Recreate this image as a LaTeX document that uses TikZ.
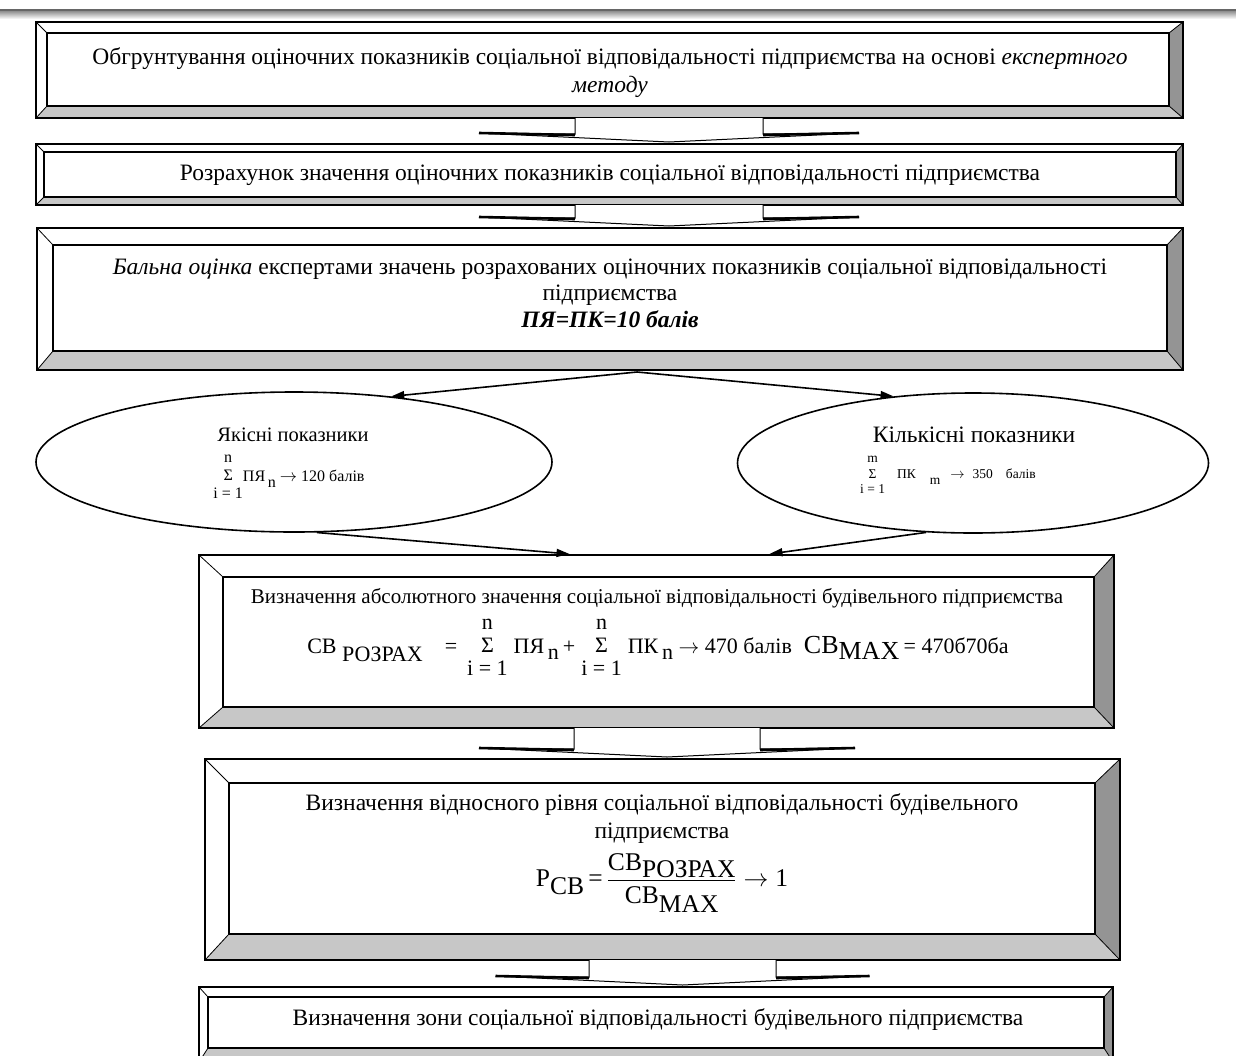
\documentclass[tikz,border=0pt]{standalone}
\usepackage{fontspec}
\setmainfont{Liberation Serif}
\usetikzlibrary{calc,shapes.geometric,arrows.meta}

\tikzset{
  boxshape/.style={rectangle, inner sep=0pt, outer sep=0pt},
  outerline/.style={draw=black, line width=1.6pt},
  innerline/.style={draw=black, line width=1.4pt},
  cornerline/.style={draw=black, line width=0.8pt},
  bevelR/.style={fill=black!42},
  bevelB/.style={fill=black!22},
  txt/.style={inner sep=0pt, align=center, font=\fontsize{23.5}{28}\selectfont},
  conn/.style={line width=1.6pt, -{Triangle[length=13pt,width=8pt]}},
  oval/.style={ellipse, draw=black, line width=1.6pt, inner sep=0pt},
  barrow/.style={fill=white, draw=black, line width=1pt},
  wing/.style={line width=2.6pt},
}

% bevel frame around an (invisible) box node: name, left, top, right, bottom
\newcommand\bevel[5]{%
  \coordinate (#1-inw) at ($(#1.north west)+(#2,#3)$);
  \coordinate (#1-ine) at ($(#1.north east)+(-#4,#3)$);
  \coordinate (#1-ise) at ($(#1.south east)+(-#4,-#5)$);
  \coordinate (#1-isw) at ($(#1.south west)+(#2,-#5)$);
  \fill[white] (#1.north west) rectangle (#1.south east);
  \fill[bevelR] (#1.north east) -- (#1.south east) -- (#1-ise) -- (#1-ine) -- cycle;
  \fill[bevelB] (#1.south west) -- (#1.south east) -- (#1-ise) -- (#1-isw) -- cycle;
  \draw[cornerline] (#1.north west) -- (#1-inw) (#1.north east) -- (#1-ine)
                    (#1.south east) -- (#1-ise) (#1.south west) -- (#1-isw);
  \draw[innerline] (#1-inw) rectangle (#1-ise);
  \draw[outerline] (#1.north west) rectangle (#1.south east);
}

% block arrow: from, to, centre x, half shaft, half wing
\newcommand\blockarrow[5]{%
  \coordinate (ba-c) at (#3,0);
  \coordinate (ba-l) at (#3-#4,0);
  \coordinate (ba-r) at (#3+#4,0);
  \coordinate (ba-wl) at (#3-#5,0);
  \coordinate (ba-wr) at (#3+#5,0);
  \filldraw[barrow] (#1.south -| ba-l) -- ($(#2.north -| ba-l)+(0,-10)$)
     -- ($(#2.north -| ba-wl)+(0,-11)$) -- ($(#2.north -| ba-c)+(0,-2)$)
     -- ($(#2.north -| ba-wr)+(0,-11)$) -- ($(#2.north -| ba-r)+(0,-10)$)
     -- (#1.south -| ba-r);
  \draw[wing] ($(#2.north -| ba-wl)+(0,-11)$) -- ($(#2.north -| ba-l)+(0,-9)$);
  \draw[wing] ($(#2.north -| ba-wr)+(0,-11)$) -- ($(#2.north -| ba-r)+(0,-9)$);
}

% stacked sum sign: row stretch, upper, lower
\newcommand\stsum[3]{{\renewcommand\arraystretch{#1}\begin{tabular}[c]{@{}c@{}}#2\\Σ\\#3\end{tabular}}}
\newcommand\lowered[2]{\raisebox{-#1}{#2}}

\begin{document}
\begin{tikzpicture}[x=1pt,y=-1pt]
\useasboundingbox (0,0) rectangle (1236,1055);
\shade[top color=black!55, bottom color=white] (0,9) rectangle (1236,19);
\draw[black!60, line width=2pt] (0,10) -- (1236,10);

% boxes
\node[boxshape, minimum width=1147pt, minimum height=96pt] (b1) at (609.5,70) {};
\bevel{b1}{11}{11}{14}{12}
\node[boxshape, minimum width=1147pt, minimum height=61pt] (b2) at (609.5,174.5) {};
\bevel{b2}{8}{8}{7}{8}
\node[boxshape, minimum width=1146pt, minimum height=142pt] (b3) at (610,299) {};
\bevel{b3}{16}{17}{16}{19}
\node[boxshape, minimum width=915pt, minimum height=173pt] (b4) at (656.5,641.5) {};
\bevel{b4}{24}{22}{20}{21}
\node[boxshape, minimum width=915pt, minimum height=201pt] (b5) at (662.5,859.5) {};
\bevel{b5}{24}{24}{25}{26}
\node[boxshape, minimum width=914pt, minimum height=75pt] (b6) at (656,1024.5) {};
\bevel{b6}{9}{10}{9}{14}

% block arrows
\blockarrow{b1}{b2}{669}{94}{190}
\blockarrow{b2}{b3}{669}{94}{190}
\blockarrow{b4}{b5}{667}{93}{188}
\blockarrow{b5}{b6}{682.5}{93.5}{187}

% ellipses
\node[oval, minimum width=516pt, minimum height=140pt] (e1) at (294,462) {};
\node[oval, minimum width=471pt, minimum height=140pt] (e2) at (973,463) {};

% texts
\node[txt] (t1) at (610,73) {Обгрунтування оціночних показників соціальної відповідальності підприємства на основі \textit{експертного}\\\textit{методу}};
\node[txt] (t2) at (610,175) {Розрахунок значення оціночних показників соціальної відповідальності підприємства};
\node[txt, font=\fontsize{23.5}{26.5}\selectfont] (t3) at (610,293) {\textit{Бальна оцінка} експертами значень розрахованих оціночних показників соціальної відповідальності\\підприємства\\\textbf{\textit{ПЯ=ПК=10 балів}}};

\node[txt, font=\fontsize{20.5}{24}\selectfont] (e1t) at (293,435) {Якісні показники};
\node[txt, font=\fontsize{16}{18}\selectfont] (e1f) at (289,477) {\stsum{1.0}{n}{i = 1}ПЯ\lowered{6pt}{\,n}\ \(\to\) 120 балів};
\node[txt, font=\fontsize{23.5}{28}\selectfont] (e2t) at (974,435) {Кількісні показники};
\node[txt, font=\fontsize{13.5}{15}\selectfont] (e2f) at (948,475) {\stsum{1.05}{m}{i = 1}\hspace{12pt}ПК\hspace{14pt}\lowered{6pt}{m}\hspace{10pt}\(\to\)\hspace{8pt}350\hspace{13pt}балів};

\node[txt, font=\fontsize{21}{25}\selectfont] (t4) at (657,598) {Визначення абсолютного значення соціальної відповідальності будівельного підприємства};
\node[txt, font=\fontsize{22}{24}\selectfont] (t4f) at (658,648) {CB\lowered{8pt}{\ РОЗРАХ}\hspace{22pt}=\hspace{10pt}\stsum{0.95}{n}{i = 1}\hspace{6pt}ПЯ\lowered{6pt}{\,n}\hspace{4pt}+\hspace{6pt}\stsum{0.95}{n}{i = 1}\hspace{6pt}ПК\lowered{6pt}{\,n}\ \(\to\) 470 балів\hspace{12pt}{\fontsize{26}{28}\selectfont CB\lowered{6pt}{MAX}\,}= 470б70ба};

\node[txt] (t5) at (662,819) {Визначення відносного рівня соціальної відповідальності будівельного\\підприємства};
\node[txt, font=\fontsize{25.5}{30}\selectfont] (t5f) at (662,883) {\(\displaystyle\mbox{P}\lowered{8pt}{\mbox{CB}}\,\mbox{=}\,\frac{\mbox{CB}\lowered{7pt}{\mbox{РОЗРАХ}}}{\mbox{CB}\lowered{9pt}{\mbox{MAX}}}\to\mbox{1}\)};

\node[txt] (t6) at (658,1020) {Визначення зони соціальної відповідальності будівельного підприємства};

% connectors
\coordinate (fork) at ($(b3.south)+(27,2)$);
\draw[conn] (fork) -- (e1.34);
\draw[conn] (fork) -- (e2.140);
\draw[conn] (e1.-72) -- ($(b4.north)+(-87,-1)$);
\draw[conn] (e2.-124) -- ($(b4.north)+(113,-1)$);
\end{tikzpicture}
\end{document}
